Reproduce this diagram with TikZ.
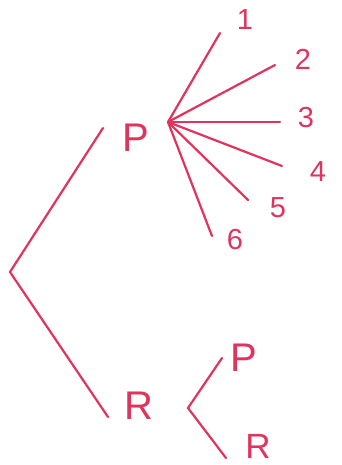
\documentclass[tikz,border=0pt]{standalone}
\usepackage{fontspec}
\setmainfont{Liberation Sans}
\definecolor{pen}{HTML}{E0345C}
\begin{document}
\begin{tikzpicture}[x=1pt,y=-1pt,
  stroke/.style={draw=pen,line width=2.2pt,line cap=round},
  letterlbl/.style={text=pen,inner sep=0pt,font=\fontsize{40}{40}\selectfont},
  smallletter/.style={text=pen,inner sep=0pt,font=\fontsize{35}{35}\selectfont},
  digitlbl/.style={text=pen,inner sep=0pt,font=\fontsize{29}{29}\selectfont}]
\useasboundingbox (0,0) rectangle (341,465);
% root and first level
\coordinate (root) at (10,272);
\coordinate (eP) at (103,128);
\coordinate (eR) at (108,417);
\node[letterlbl] (P) at (136,138) {P};
\node[letterlbl] (R) at (139,406) {R};
\draw[stroke] (eP) -- (root) -- (eR);
% fan from P
\coordinate (fc) at (168,122);
\coordinate (e1) at (220,33);
\coordinate (e2) at (275,65);
\coordinate (e3) at (280,122);
\coordinate (e4) at (282,166);
\coordinate (e5) at (248,200);
\coordinate (e6) at (212,236);
\node[digitlbl] (n1) at (245,20) {1};
\node[digitlbl] (n2) at (303,59) {2};
\node[digitlbl] (n3) at (306,118) {3};
\node[digitlbl] (n4) at (318,172) {4};
\node[digitlbl] (n5) at (278,208) {5};
\node[digitlbl] (n6) at (235,240) {6};
\foreach \i in {1,...,6} \draw[stroke] (fc) -- (e\i);
% branch from R
\coordinate (rv) at (188,408);
\coordinate (eP2) at (222,358);
\coordinate (eR2) at (226,458);
\node[letterlbl] (P2) at (244,358) {P};
\node[smallletter] (R2) at (258,446) {R};
\draw[stroke] (eP2) -- (rv) -- (eR2);
\end{tikzpicture}
\end{document}
